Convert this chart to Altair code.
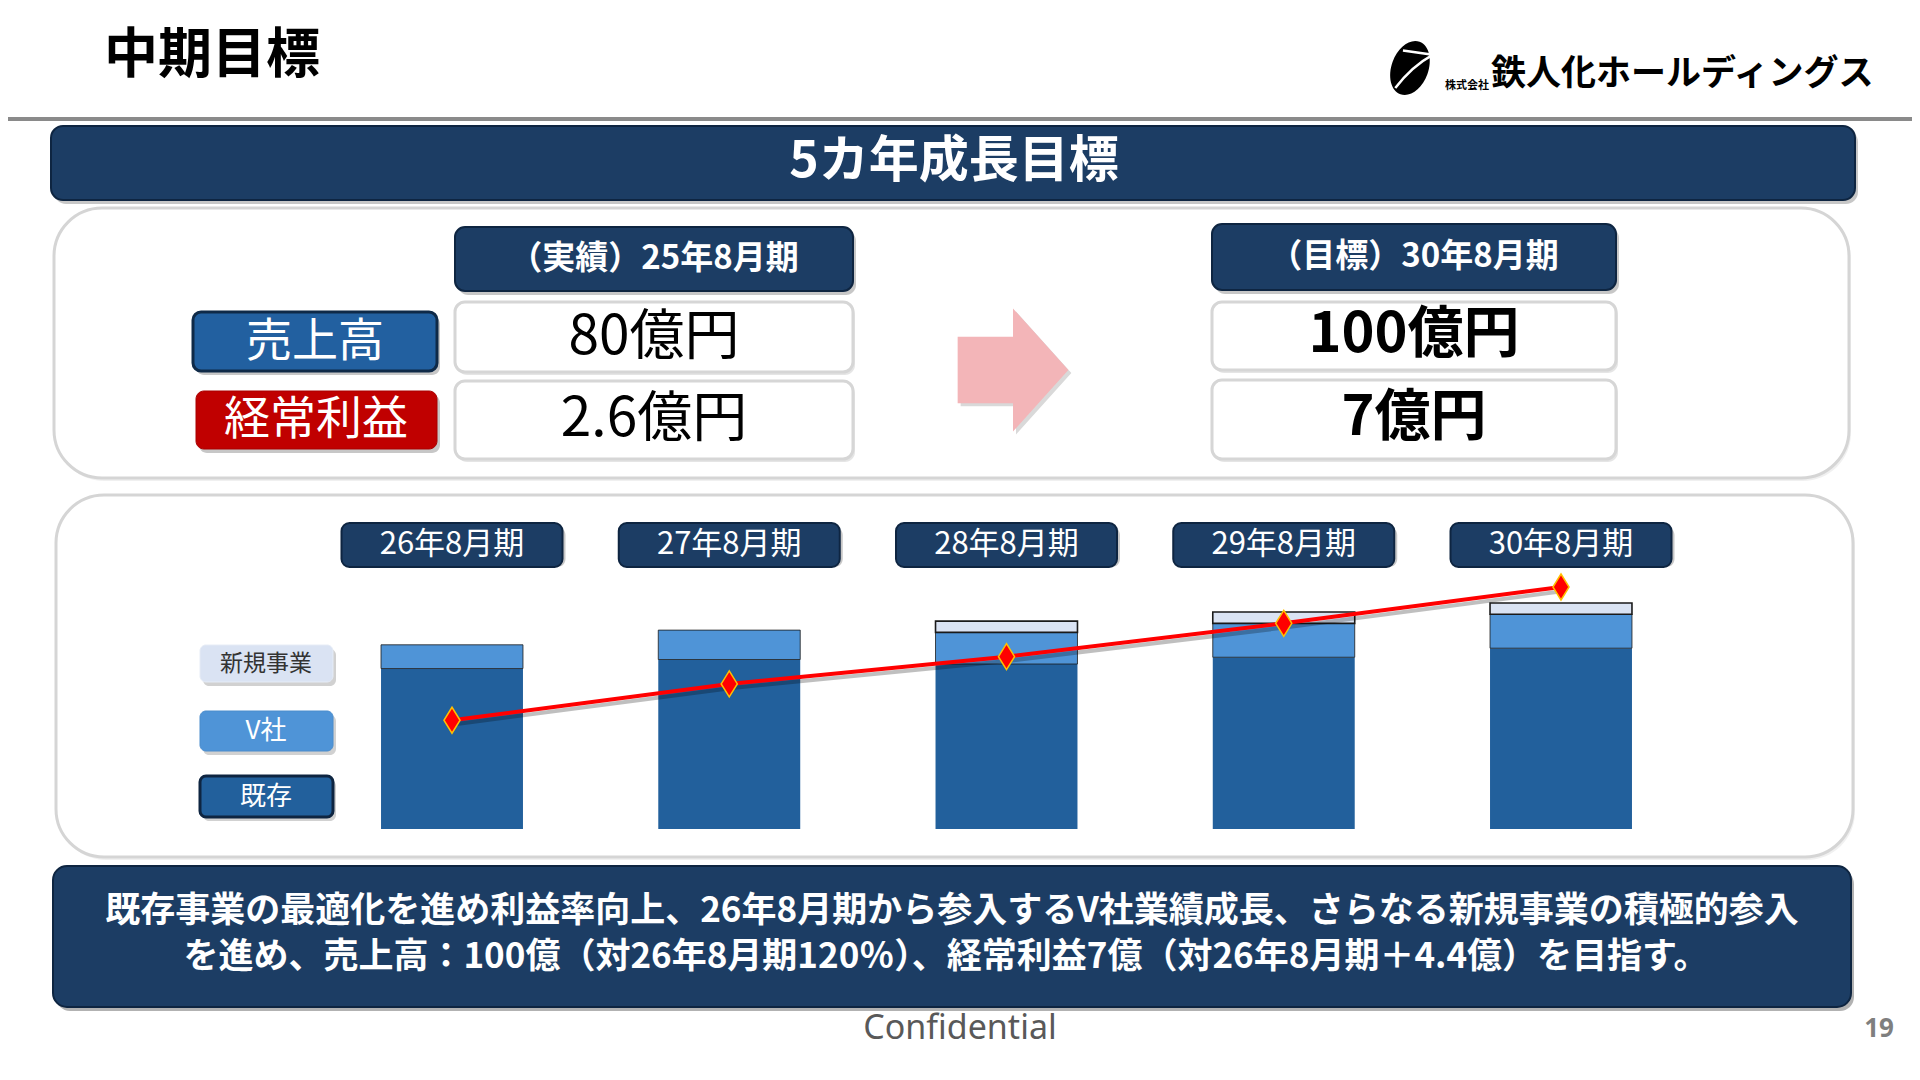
import altair as alt
import pandas as pd

# ---------------- data ----------------
periods = ["26年8月期", "27年8月期", "28年8月期", "29年8月期", "30年8月期"]
segments = ["既存", "V社", "新規事業"]
existing = [71, 75, 73, 76, 80]
v_company = [10.5, 13, 14, 15, 15]
new_business = [0, 0, 5, 5, 5]
ordinary_profit = [2.6, 3.8, 4.7, 5.8, 7.0]

page_title = "中期目標"
banner_title = "5カ年成長目標"
actual_label = "（実績）25年8月期"
target_label = "（目標）30年8月期"
metric_names = ["売上高", "経常利益"]
actual_values = ["80億円", "2.6億円"]
target_values = ["100億円", "7億円"]
summary_lines = [
    "既存事業の最適化を進め利益率向上、26年8月期から参入するV社業績成長、さらなる新規事業の積極的参入",
    "を進め、売上高：100億（対26年8月期120％）、経常利益7億（対26年8月期＋4.4億）を目指す。",
]
company_prefix = "株式会社"
company_name = "鉄人化ホールディングス"
footer_text = "Confidential"
page_number = "19"

# ---------------- style ----------------
FONT = "Noto Sans CJK JP"
M = 8  # page margin


def sx(v):
    return v - M


NAVY = "#1C3D64"
NAVY_EDGE = "#0E2541"
BLUE_DARK = "#22609C"
BLUE_MID = "#4F94D7"
BLUE_LIGHT = "#DAE3F3"
RED = "#C00000"
PANEL_EDGE = "#D5D5D5"
seg_colors = [BLUE_DARK, BLUE_MID, BLUE_LIGHT]


def rect_layers(rows, radius, shadow_opacity=0.22, dx=3, dy=4):
    df = pd.DataFrame([
        {"x": sx(r[0]), "x2": sx(r[1]), "y": sx(r[2]), "y2": sx(r[3]),
         "fill": r[4], "stroke": r[5], "sw": r[6]} for r in rows
    ])
    out = []
    if shadow_opacity > 0:
        sdf = df.copy()
        sdf["x"] += dx
        sdf["x2"] += dx
        sdf["y"] += dy
        sdf["y2"] += dy
        out.append(
            alt.Chart(sdf).mark_rect(cornerRadius=radius, fill="#000000", opacity=shadow_opacity).encode(
                x=alt.X("x:Q", scale=None, axis=None), x2=alt.X2("x2:Q"),
                y=alt.Y("y:Q", scale=None, axis=None), y2=alt.Y2("y2:Q"),
            )
        )
    out.append(
        alt.Chart(df).mark_rect(cornerRadius=radius).encode(
            x=alt.X("x:Q", scale=None, axis=None), x2=alt.X2("x2:Q"),
            y=alt.Y("y:Q", scale=None, axis=None), y2=alt.Y2("y2:Q"),
            fill=alt.Fill("fill:N", scale=None, legend=None),
            stroke=alt.Stroke("stroke:N", scale=None, legend=None),
            strokeWidth=alt.StrokeWidth("sw:Q", scale=None, legend=None),
        )
    )
    return out


def text_layer(rows, weight="normal", align="center", font=FONT):
    df = pd.DataFrame([
        {"x": sx(r[0]), "y": sx(r[1]), "text": r[2], "size": r[3], "color": r[4]} for r in rows
    ])
    return alt.Chart(df).mark_text(font=font, fontWeight=weight, align=align, baseline="middle").encode(
        x=alt.X("x:Q", scale=None, axis=None),
        y=alt.Y("y:Q", scale=None, axis=None),
        text=alt.Text("text:N"),
        size=alt.Size("size:Q", scale=None, legend=None),
        color=alt.Color("color:N", scale=None, legend=None),
    )


def symbol_layer(x, y, shape, size, angle=0, **kw):
    df = pd.DataFrame({"x": [sx(x)], "y": [sx(y)]})
    return alt.Chart(df).mark_point(shape=shape, size=size, angle=angle, opacity=1, **kw).encode(
        x=alt.X("x:Q", scale=None, axis=None),
        y=alt.Y("y:Q", scale=None, axis=None),
    )


layers = []

# ---------------- header ----------------
layers.append(
    alt.Chart(pd.DataFrame({"a": [0]})).mark_rule(color="#8A8A8A", strokeWidth=4).encode(
        x=alt.value(0), x2=alt.value(1910), y=alt.value(sx(119))
    )
)
layers.append(text_layer([(104, 57, page_title, 54, "#000000")], weight="bold", align="left"))

ELLIPSE = "M0,-1A0.66,1 0 1,1 0,1A0.66,1 0 1,1 0,-1Z"
SWOOSH = "M-0.45,-0.5L0.6,-0.72Q0.05,-0.1 -0.25,0.85"
layers.append(symbol_layer(1410, 68, ELLIPSE, 3136, angle=20, filled=True, fill="#000000", stroke="#000000", strokeWidth=0))
layers.append(symbol_layer(1410, 68, SWOOSH, 3136, angle=20, filled=False, stroke="#FFFFFF", strokeWidth=2.5))
layers.append(text_layer([(1467, 86, company_prefix, 11, "#000000")], weight="bold"))
layers.append(text_layer([(1491, 74, company_name, 35, "#000000")], weight="bold", align="left"))

# ---------------- banner ----------------
layers += rect_layers([(51, 1855, 126, 200, NAVY, NAVY_EDGE, 2)], 12)
layers.append(text_layer([(954, 162, banner_title, 50, "#FFFFFF")], weight="bold"))

# ---------------- panels ----------------
layers += rect_layers([
    (54, 1849, 208, 478, "#FFFFFF", PANEL_EDGE, 3),
    (56, 1853, 495, 857, "#FFFFFF", PANEL_EDGE, 3),
], 48, shadow_opacity=0.06, dx=2, dy=3)

# ---------------- KPI table ----------------
layers += rect_layers([
    (455, 853, 227, 291, NAVY, NAVY_EDGE, 2),
    (1212, 1616, 224, 290, NAVY, NAVY_EDGE, 2),
], 10)
layers += rect_layers([
    (455, 853, 302, 372, "#FFFFFF", "#D6D6D6", 3),
    (455, 853, 381, 459, "#FFFFFF", "#D6D6D6", 3),
    (1212, 1616, 302, 370, "#FFFFFF", "#D6D6D6", 3),
    (1212, 1616, 380, 459, "#FFFFFF", "#D6D6D6", 3),
], 10, shadow_opacity=0.10, dx=2, dy=3)
layers += rect_layers([
    (193, 437, 312, 371, "#2260A0", "#0F2A48", 3),
    (196, 437, 391, 449, RED, "#A80000", 1),
], 8)
layers.append(text_layer([
    (654, 259, actual_label, 33, "#FFFFFF"),
    (1414, 257, target_label, 33, "#FFFFFF"),
], weight="bold"))
layers.append(text_layer([
    (315, 342, metric_names[0], 46, "#FFFFFF"),
    (316, 420, metric_names[1], 46, "#FFFFFF"),
    (654, 337, actual_values[0], 55, "#000000"),
    (654, 419, actual_values[1], 55, "#000000"),
]))
layers.append(text_layer([
    (1414, 335, target_values[0], 56, "#000000"),
    (1414, 418, target_values[1], 56, "#000000"),
], weight="bold"))

ARROW = "M-0.9,-0.54L0,-0.54L0,-1L0.9,0L0,1L0,0.54L-0.9,0.54Z"
layers.append(symbol_layer(1016, 373, ARROW, 123 * 123, filled=True, fill="#D9D9D9", strokeWidth=0))
layers.append(symbol_layer(1013, 370, ARROW, 123 * 123, filled=True, fill="#F3B5B8", strokeWidth=0))

# ---------------- stacked bar + line chart ----------------
c1, c5 = sx(452), sx(1561)
step = (c5 - c1) / 4
xscale = alt.Scale(domain=periods, range=[c1 - step / 2, c5 + step / 2], paddingInner=0.488, paddingOuter=0.244)
xscale_sh = alt.Scale(domain=periods, range=[c1 - step / 2 + 3, c5 + step / 2 + 3], paddingInner=0.488, paddingOuter=0.244)
yscale = alt.Scale(domain=[0, 100], range=[sx(829), sx(829 - 226)], nice=False, zero=True)
lscale = alt.Scale(domain=[0, 7], range=[sx(799), sx(587)], nice=False, zero=True)
lscale_sh = alt.Scale(domain=[0, 7], range=[sx(799) + 4, sx(587) + 4], nice=False, zero=True)

bar_rows = []
for i, p in enumerate(periods):
    for j, vals in enumerate([existing, v_company, new_business]):
        if vals[i] > 0:
            bar_rows.append({"period": p, "segment": segments[j], "value": vals[i], "idx": j})
bars_df = pd.DataFrame(bar_rows)
line_df = pd.DataFrame({"period": periods, "profit": ordinary_profit})
periods_df = pd.DataFrame({"period": periods})

# period labels
layers.append(
    alt.Chart(periods_df).mark_bar(width=221, cornerRadius=8, fill="#000000", opacity=0.22, xOffset=3, yOffset=4).encode(
        x=alt.X("period:N", scale=xscale, axis=None), y=alt.value(sx(523)), y2=alt.value(sx(567))
    )
)
layers.append(
    alt.Chart(periods_df).mark_bar(width=221, cornerRadius=8, fill=NAVY, stroke=NAVY_EDGE, strokeWidth=2).encode(
        x=alt.X("period:N", scale=xscale, axis=None), y=alt.value(sx(523)), y2=alt.value(sx(567))
    )
)
layers.append(
    alt.Chart(periods_df).mark_text(font=FONT, fontSize=31, color="#FFFFFF", baseline="middle").encode(
        x=alt.X("period:N", scale=xscale, axis=None), y=alt.value(sx(545)), text="period:N"
    )
)

# bars
layers.append(
    alt.Chart(bars_df).mark_bar(stroke="#1A1A1A").encode(
        x=alt.X("period:N", scale=xscale, axis=None),
        y=alt.Y("value:Q", scale=yscale, axis=None, stack="zero"),
        color=alt.Color("segment:N", scale=alt.Scale(domain=segments, range=seg_colors), legend=None),
        strokeWidth=alt.StrokeWidth("segment:N", scale=alt.Scale(domain=segments, range=[0, 1.6, 1.6]), legend=None),
        order=alt.Order("idx:Q"),
    )
)

# profit line
layers.append(
    alt.Chart(line_df).mark_line(color="#000000", opacity=0.25, strokeWidth=4).encode(
        x=alt.X("period:N", scale=xscale_sh, axis=None),
        y=alt.Y("profit:Q", scale=lscale_sh, axis=None),
    )
)
layers.append(
    alt.Chart(line_df).mark_line(color="#FF0000", strokeWidth=4).encode(
        x=alt.X("period:N", scale=xscale, axis=None),
        y=alt.Y("profit:Q", scale=lscale, axis=None),
    )
)
DIAMOND = "M0,-1L0.62,0L0,1L-0.62,0Z"
layers.append(
    alt.Chart(line_df).mark_point(shape=DIAMOND, size=26 * 26, filled=True, fill="#FF0000", stroke="#FFC000",
                                  strokeWidth=1.5, opacity=1).encode(
        x=alt.X("period:N", scale=xscale, axis=None),
        y=alt.Y("profit:Q", scale=lscale, axis=None),
    )
)

# legend boxes
legend_rows = [
    (200, 333, 645, 682, seg_colors[2], "#E6ECF6", 1),
    (200, 333, 711, 751, seg_colors[1], "#4A8CCC", 1),
    (200, 333, 776, 817, seg_colors[0], NAVY_EDGE, 3),
]
layers += rect_layers(legend_rows, 6, shadow_opacity=0.18)
layers.append(text_layer([
    (266, 664, segments[2], 23, "#333333"),
    (266, 731, segments[1], 26, "#FFFFFF"),
    (266, 797, segments[0], 26, "#FFFFFF"),
]))

# ---------------- summary box ----------------
layers += rect_layers([(53, 1851, 866, 1007, NAVY, NAVY_EDGE, 2)], 14, shadow_opacity=0.3)
layers.append(text_layer([
    (952, 911, summary_lines[0], 35, "#FFFFFF"),
    (946, 957, summary_lines[1], 35, "#FFFFFF"),
], weight="bold"))

# ---------------- footer ----------------
layers.append(text_layer([(960, 1029, footer_text, 34, "#595959")], font="Noto Sans"))
layers.append(text_layer([(1879, 1029, page_number, 26, "#7F7F7F")], weight="bold", font="Noto Sans"))

chart = alt.layer(*layers).resolve_scale(
    x="independent", y="independent", color="independent", fill="independent",
    stroke="independent", strokeWidth="independent", size="independent"
).properties(
    width=1904, height=1056, padding=0, autosize=alt.AutoSizeParams(type="none"), background="white"
).configure_view(stroke=None)

chart.save("out.html", embed_options={"renderer": "svg", "actions": False})
